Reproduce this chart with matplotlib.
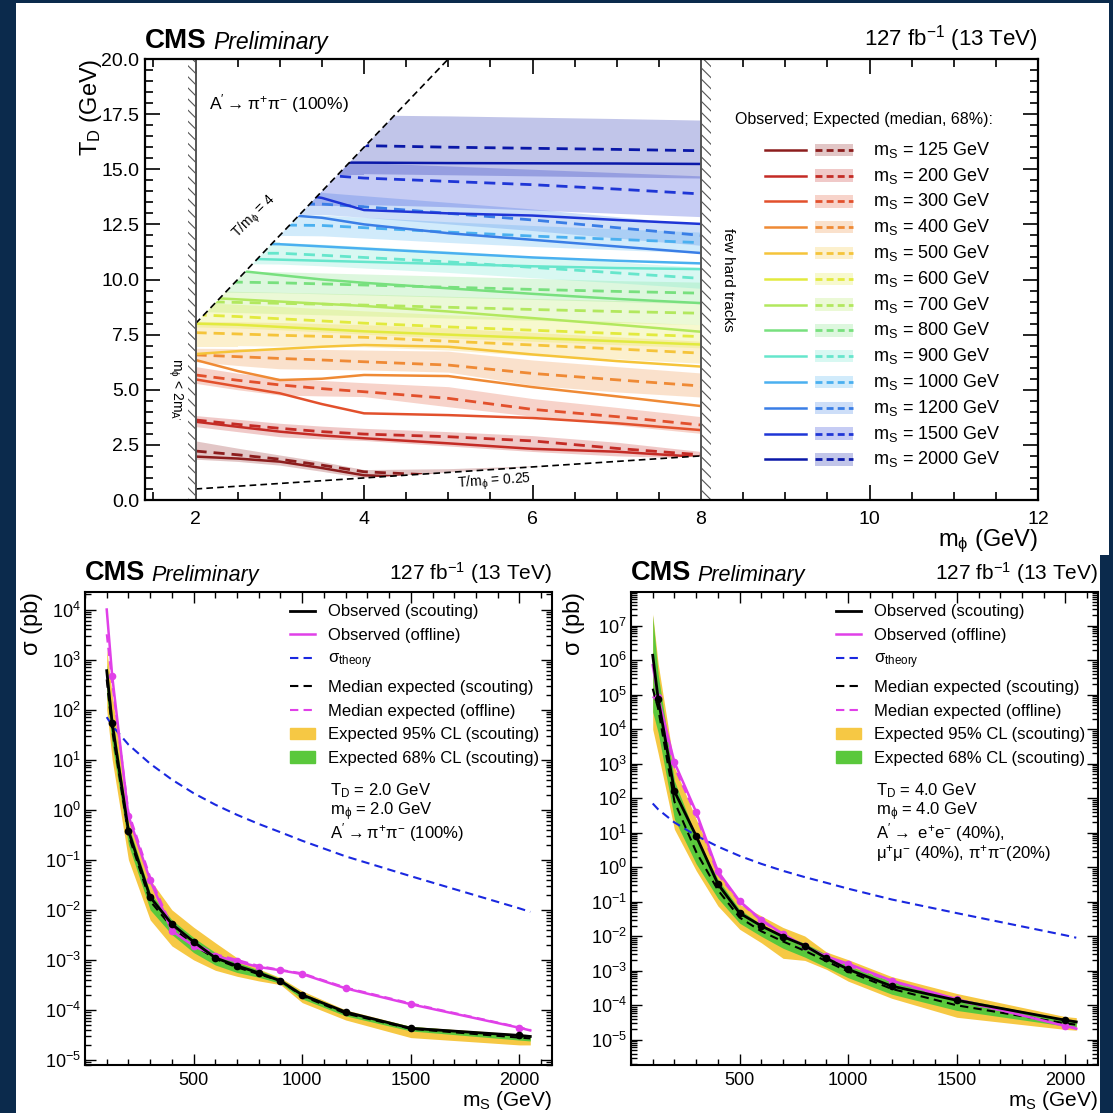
import math
import matplotlib
matplotlib.use('Agg')
import matplotlib.pyplot as plt
from matplotlib.patches import Rectangle, Polygon, Patch
from matplotlib.lines import Line2D
from matplotlib.ticker import MultipleLocator, FixedLocator, NullFormatter, FormatStrFormatter

plt.rcParams['font.family'] = ['Liberation Sans', 'DejaVu Sans']
plt.rcParams['mathtext.default'] = 'regular'
plt.rcParams['hatch.linewidth'] = 0.8

# ---------------- top panel: T_D vs m_phi limits ----------------
mphi = [2, 2.5, 3, 3.5, 4, 5, 6, 7, 8]
ms_vals = [125, 200, 300, 400, 500, 600, 700, 800, 900, 1000, 1200, 1500, 2000]
ms_colors = ['#8c1d1d', '#c42b25', '#e2502c', '#ef8a35', '#f5c43a', '#e2ea3e', '#b2e85e',
             '#78e07e', '#66e6cc', '#4ab0f0', '#3a7ee6', '#1f36d6', '#0a18a8']

# observed / expected / 68% band, one row per m_S
td_obs = [
    [1.97, 1.88, 1.74, 1.45, 1.12, 1.00, 1.00, 1.00, 1.00],
    [3.55, 3.32, 3.10, 2.93, 2.80, 2.57, 2.32, 2.19, 1.95],
    [5.47, 5.15, 4.84, 4.35, 3.93, 3.85, 3.72, 3.48, 3.17],
    [6.35, 5.85, 5.44, 5.50, 5.67, 5.62, 5.12, 4.70, 4.26],
    [6.62, 6.75, 6.85, 6.95, 7.03, 6.95, 6.60, 6.30, 6.05],
    [8.00, 7.95, 7.85, 7.75, 7.65, 7.50, 7.35, 7.20, 7.05],
    [9.20, 9.10, 9.00, 8.90, 8.80, 8.55, 8.25, 7.95, 7.63],
    [10.50, 10.40, 10.20, 10.00, 9.85, 9.60, 9.35, 9.12, 8.93],
    [11.00, 10.95, 10.90, 10.85, 10.80, 10.70, 10.60, 10.52, 10.47],
    [11.65, 11.64, 11.60, 11.50, 11.40, 11.20, 11.00, 10.85, 10.73],
    [13.00, 12.97, 12.95, 12.80, 12.50, 12.10, 11.80, 11.50, 11.20],
    [14.00, 14.00, 14.00, 13.70, 13.15, 13.00, 12.90, 12.70, 12.52],
    [15.30, 15.30, 15.30, 15.30, 15.30, 15.28, 15.27, 15.26, 15.24],
]
td_exp = [
    [2.22, 2.05, 1.85, 1.58, 1.28, 1.10, 1.00, 1.00, 1.00],
    [3.63, 3.43, 3.25, 3.10, 2.99, 2.87, 2.68, 2.34, 2.05],
    [5.67, 5.43, 5.22, 5.05, 4.91, 4.61, 4.11, 3.78, 3.40],
    [6.58, 6.50, 6.42, 6.35, 6.27, 6.12, 5.74, 5.45, 5.17],
    [7.59, 7.53, 7.47, 7.42, 7.38, 7.20, 7.03, 6.85, 6.66],
    [8.40, 8.32, 8.22, 8.12, 8.02, 7.85, 7.70, 7.55, 7.41],
    [9.00, 8.96, 8.92, 8.88, 8.84, 8.74, 8.64, 8.55, 8.47],
    [9.90, 9.88, 9.85, 9.80, 9.75, 9.65, 9.55, 9.46, 9.38],
    [11.20, 11.19, 11.19, 11.10, 11.00, 10.80, 10.55, 10.30, 10.05],
    [12.47, 12.47, 12.47, 12.45, 12.35, 12.15, 11.97, 11.82, 11.67],
    [13.42, 13.42, 13.42, 13.42, 13.30, 13.00, 12.70, 12.35, 12.00],
    [14.74, 14.74, 14.74, 14.74, 14.60, 14.45, 14.30, 14.10, 13.88],
    [16.07, 16.07, 16.07, 16.07, 16.07, 16.00, 15.95, 15.90, 15.84],
]
td_lo = [
    [1.85, 1.75, 1.58, 1.30, 1.00, 1.00, 1.00, 1.00, 1.00],
    [3.33, 3.10, 2.87, 2.77, 2.70, 2.45, 2.20, 2.00, 1.90],
    [5.29, 5.00, 4.76, 4.72, 4.69, 4.23, 3.80, 3.40, 3.02],
    [6.27, 6.10, 5.95, 5.92, 5.90, 5.80, 5.20, 4.90, 4.67],
    [7.00, 7.00, 6.98, 6.97, 6.95, 6.80, 6.55, 6.40, 6.20],
    [7.85, 7.80, 7.72, 7.62, 7.52, 7.35, 7.20, 7.05, 6.90],
    [8.55, 8.50, 8.45, 8.40, 8.35, 8.25, 8.15, 8.05, 7.95],
    [9.45, 9.42, 9.40, 9.35, 9.30, 9.20, 9.10, 9.00, 8.90],
    [10.75, 10.72, 10.70, 10.62, 10.52, 10.32, 10.08, 9.85, 9.60],
    [12.00, 12.00, 12.00, 11.98, 11.88, 11.68, 11.50, 11.35, 11.20],
    [12.95, 12.95, 12.95, 12.95, 12.82, 12.52, 12.22, 11.88, 11.55],
    [13.40, 13.40, 13.40, 13.40, 13.40, 13.30, 13.15, 13.00, 12.85],
    [14.80, 14.80, 14.80, 14.80, 14.80, 14.75, 14.70, 14.65, 14.60],
]
td_hi = [
    [2.68, 2.35, 2.04, 1.74, 1.38, 1.42, 1.55, 1.60, 1.60],
    [3.83, 3.66, 3.48, 3.35, 3.25, 3.10, 2.92, 2.62, 2.20],
    [6.05, 5.75, 5.52, 5.42, 5.32, 5.14, 4.60, 4.20, 3.78],
    [6.88, 6.87, 6.85, 6.83, 6.80, 6.75, 6.35, 6.05, 5.76],
    [8.10, 8.08, 8.05, 8.00, 7.95, 7.80, 7.60, 7.40, 7.20],
    [8.95, 8.88, 8.78, 8.68, 8.58, 8.40, 8.25, 8.10, 7.95],
    [9.50, 9.46, 9.42, 9.38, 9.34, 9.24, 9.14, 9.05, 8.97],
    [10.40, 10.38, 10.35, 10.30, 10.25, 10.15, 10.05, 9.95, 9.88],
    [11.70, 11.68, 11.68, 11.60, 11.50, 11.30, 11.05, 10.80, 10.55],
    [12.95, 12.95, 12.95, 12.92, 12.82, 12.62, 12.45, 12.30, 12.15],
    [13.95, 13.95, 13.95, 13.95, 13.80, 13.50, 13.20, 12.85, 12.50],
    [15.40, 15.40, 15.40, 15.40, 15.30, 15.15, 15.00, 14.85, 14.70],
    [17.46, 17.46, 17.46, 17.46, 17.46, 17.42, 17.36, 17.30, 17.23],
]
# kinematic boundaries T/m_phi = 4 and 0.25
bound_x = [2, 8]
bound_lo = [0.5, 2.0]
bound_hi_x = [2, 5.0]
bound_hi = [8.0, 20.0]

# ---------------- bottom panels: sigma vs m_S ----------------
mass = [100, 125, 200, 300, 400, 500, 600, 700, 800, 900, 1000, 1200, 1500, 2000, 2050]
theory = [70.8, 47.9, 20, 8.3, 4.0, 2.14, 1.26, 0.79, 0.52, 0.355, 0.24, 0.117, 0.047, 0.0107, 0.0091]

# T_D = 2 GeV, m_phi = 2 GeV
l_obs = [600, 54, 0.38, 0.018, 5.2e-3, 2.3e-3, 1.1e-3, 7.6e-4, 5.5e-4, 3.8e-4, 2.0e-4, 9.1e-5, 4.3e-5, 3.1e-5, 2.95e-5]
l_exp = [400, 40, 0.32, 0.015, 4.5e-3, 2.0e-3, 1.05e-3, 7.1e-4, 5.2e-4, 3.8e-4, 1.9e-4, 8.5e-5, 4.2e-5, 2.8e-5, 2.7e-5]
l_g_lo = [200, 20, 0.2, 0.01, 3.2e-3, 1.4e-3, 7.9e-4, 5.6e-4, 4.5e-4, 3.4e-4, 1.66e-4, 7.6e-5, 3.8e-5, 2.5e-5, 2.4e-5]
l_g_hi = [800, 80, 0.5, 0.022, 6.3e-3, 2.8e-3, 1.4e-3, 8.9e-4, 6.3e-4, 4.2e-4, 2.2e-4, 9.5e-5, 4.7e-5, 3.2e-5, 3.0e-5]
l_y_lo = [100, 10, 0.1, 6.3e-3, 1.9e-3, 1.0e-3, 6.2e-4, 4.7e-4, 3.8e-4, 3.2e-4, 1.4e-4, 6.3e-5, 2.8e-5, 2.0e-5, 2.0e-5]
l_y_hi = [1600, 200, 0.8, 0.04, 0.01, 4.5e-3, 2.2e-3, 1.1e-3, 6.6e-4, 4.4e-4, 2.4e-4, 1.0e-4, 4.7e-5, 3.3e-5, 3.2e-5]
l_off_obs = [1.0e4, 480, 0.76, 0.039, 3.8e-3, 1.9e-3, 1.2e-3, 9.3e-4, 7.2e-4, 6.2e-4, 5.2e-4, 2.7e-4, 1.3e-4, 4.4e-5, 3.9e-5]
l_off_exp = [3.2e3, 350, 0.9, 0.045, 4.5e-3, 2.2e-3, 1.3e-3, 1.0e-3, 7.6e-4, 6.3e-4, 5.4e-4, 2.8e-4, 1.35e-4, 4.5e-5, 4.0e-5]

# T_D = 4 GeV, m_phi = 4 GeV
r_obs = [1.4e6, 7.6e4, 160, 8.1, 0.33, 0.047, 0.02, 9.8e-3, 5.4e-3, 2.3e-3, 1.1e-3, 3.6e-4, 1.4e-4, 3.7e-5, 3.3e-5]
r_exp = [1.5e5, 4.0e4, 80, 2.8, 0.22, 0.035, 0.014, 7.1e-3, 3.8e-3, 1.9e-3, 9.5e-4, 3.0e-4, 1.0e-4, 3.0e-5, 2.75e-5]
r_g_lo = [3.2e4, 8e3, 25, 1.26, 0.126, 0.024, 0.01, 4.5e-3, 2.5e-3, 1.26e-3, 6.3e-4, 2.1e-4, 7.1e-5, 2.5e-5, 2.4e-5]
r_g_hi = [2.0e7, 4.0e5, 320, 7.9, 0.45, 0.06, 0.022, 0.011, 6.3e-3, 3.0e-3, 1.4e-3, 5.0e-4, 1.6e-4, 4.0e-5, 3.7e-5]
r_y_lo = [1e4, 2e3, 12.6, 0.8, 0.076, 0.016, 6.5e-3, 2.3e-3, 2.0e-3, 1.1e-3, 5.0e-4, 1.6e-4, 4.5e-5, 2.0e-5, 1.9e-5]
r_y_hi = [2.2e7, 8e5, 800, 25, 0.9, 0.085, 0.039, 0.018, 0.0102, 3.5e-3, 2.1e-3, 6.8e-4, 2.2e-4, 4.7e-5, 4.4e-5]
r_off_obs = [7.2e5, 8.5e4, 1.1e3, 40, 0.76, 0.105, 0.03, 0.0117, 5.1e-3, 2.6e-3, 1.6e-3, 5.2e-4, 1.5e-4, 2.5e-5, 2.1e-5]
r_off_exp = [8.9e4, 6.3e4, 800, 32, 0.63, 0.1, 0.028, 0.0112, 5.0e-3, 2.5e-3, 1.4e-3, 5.0e-4, 1.4e-4, 2.6e-5, 2.2e-5]

NAVY = '#0b2a4c'
W = 1113.0


def box(l, t, r, b):
    # pixel box (left, top, right, bottom) -> figure fraction rect
    return [l / W, 1 - b / W, (r - l) / W, (b - t) / W]


def cms_header(ax, size, psize, lsize, dx):
    ax.text(0, 1.012, 'CMS', fontsize=size, fontweight='bold', transform=ax.transAxes, va='bottom')
    ax.text(dx, 1.012, 'Preliminary', fontsize=psize, style='italic', transform=ax.transAxes, va='bottom')
    ax.text(1.0, 1.012, r'127 fb$^{-1}$ (13 TeV)', fontsize=lsize, transform=ax.transAxes,
            va='bottom', ha='right')


fig = plt.figure(figsize=(11.13, 11.13), dpi=100, facecolor=NAVY)
fig.add_artist(Rectangle((16 / W, 1 - 555 / W), 1093 / W, 552 / W, transform=fig.transFigure,
                         facecolor='white', edgecolor='none', zorder=-5))
fig.add_artist(Rectangle((16 / W, 0), 1084 / W, 558 / W, transform=fig.transFigure,
                         facecolor='white', edgecolor='none', zorder=-5))

# ===== top =====
ax = fig.add_axes(box(145, 59, 1038, 500))
ax.set_xlim(1.4, 12)
ax.set_ylim(0, 20)

clip = Polygon([(2, 0.5), (8, 2), (8, 25), (6.25, 25), (2, 8)], closed=True,
               transform=ax.transData, facecolor='none', edgecolor='none')

for i, c in enumerate(ms_colors):
    b = ax.fill_between(mphi, td_lo[i], td_hi[i], color=c, alpha=0.25, lw=0)
    b.set_clip_path(clip)
for i, c in enumerate(ms_colors):
    l1, = ax.plot(mphi, td_exp[i], color=c, lw=2, ls=(0, (4, 2.5)))
    l2, = ax.plot(mphi, td_obs[i], color=c, lw=1.8)
    l1.set_clip_path(clip)
    l2.set_clip_path(clip)

ax.plot(bound_x, bound_lo, color='k', lw=1.2, ls=(0, (4, 2.5)))
ax.plot(bound_hi_x, bound_hi, color='k', lw=1.2, ls=(0, (4, 2.5)))

for x0, w in [(1.915, 0.085), (8.0, 0.12)]:
    ax.add_patch(Rectangle((x0, 0), w, 20, facecolor='none', edgecolor='#555555',
                           hatch='\\\\\\', lw=0))
ax.axvline(2, color='#555555', lw=1.4)
ax.axvline(8, color='#555555', lw=1.4)

ax.text(0.072, 0.900, r'A$^{\prime}\rightarrow\pi^{+}\pi^{-}$ (100%)', fontsize=12.5,
        transform=ax.transAxes, va='center')
ax.text(0.123, 0.642, r'T/m$_{\phi}$ = 4', fontsize=10, rotation=45, transform=ax.transAxes,
        ha='center', va='center')
ax.text(0.3915, 0.042, r'T/m$_{\phi}$ = 0.25', fontsize=10, rotation=4, transform=ax.transAxes,
        ha='center', va='center')
ax.text(0.034, 0.252, r'm$_{\phi}$ < 2m$_{A^{\prime}}$', fontsize=10, rotation=270,
        transform=ax.transAxes, ha='center', va='center')
ax.text(0.653, 0.50, 'few hard tracks', fontsize=11, rotation=270, transform=ax.transAxes,
        ha='center', va='center')

# legend built by hand (solid observed + dashed expected with band)
ax.text(0.661, 0.862, 'Observed; Expected (median, 68%):', fontsize=11.5,
        transform=ax.transAxes, va='center')
for i, (m, c) in enumerate(zip(ms_vals, ms_colors)):
    y = 0.794 - i * 0.0585
    ax.plot([0.694, 0.740], [y, y], color=c, lw=1.8, transform=ax.transAxes)
    ax.add_patch(Rectangle((0.750, y - 0.014), 0.043, 0.028, transform=ax.transAxes,
                           facecolor=c, alpha=0.25, lw=0))
    ax.plot([0.750, 0.793], [y, y], color=c, lw=2, ls=(0, (2.5, 1.5)), transform=ax.transAxes)
    ax.text(0.815, y, r'm$_{S}$ = %d GeV' % m, fontsize=13, transform=ax.transAxes, va='center')

ax.xaxis.set_major_locator(MultipleLocator(2))
ax.xaxis.set_minor_locator(MultipleLocator(0.5))
ax.yaxis.set_major_locator(MultipleLocator(2.5))
ax.yaxis.set_minor_locator(MultipleLocator(0.5))
ax.yaxis.set_major_formatter(FormatStrFormatter('%.1f'))
ax.tick_params(which='both', direction='in', top=True, right=True, labelsize=14, width=1.2)
ax.tick_params(which='major', length=11, pad=4)
ax.tick_params(which='minor', length=5.5)
ax.tick_params(axis='x', which='major', pad=8)
for s in ax.spines.values():
    s.set_linewidth(1.6)
ax.set_ylabel(r'T$_{D}$ (GeV)', fontsize=17, loc='top')
ax.yaxis.set_label_coords(-0.046, 1.0)
ax.set_xlabel(r'm$_{\phi}$ (GeV)', fontsize=17, loc='right')
ax.xaxis.set_label_coords(1.0, -0.063)
cms_header(ax, 20, 16.5, 16, 0.076)


# ===== bottom panels =====
def limit_panel(rect, obs, exp, g_lo, g_hi, y_lo, y_hi, off_obs, off_exp, ylim, info, info_y,
                ylab_x):
    ax = fig.add_axes(rect)
    ax.set_yscale('log')
    ax.set_xlim(0, 2150)
    ax.set_ylim(*ylim)
    ax.fill_between(mass, y_lo, y_hi, color='#f6c844', lw=0)
    ax.fill_between(mass, g_lo, g_hi, color='#5ac83c', lw=0)
    ax.plot(mass, theory, color='#1a28e0', lw=1.5, ls=(0, (4, 2.5)))
    ax.plot(mass, off_exp, color='#e040e8', lw=1.5, ls=(0, (4, 2.5)))
    ax.plot(mass, exp, color='k', lw=1.5, ls=(0, (4, 2.5)))
    ax.plot(mass, off_obs, color='#e040e8', lw=1.8)
    ax.plot(mass[1:-1], off_obs[1:-1], 'o', color='#e040e8', ms=4.5)
    ax.plot(mass, obs, color='k', lw=2)
    ax.plot(mass[1:-1], obs[1:-1], 'o', color='k', ms=4.5)

    handles = [Line2D([], [], color='k', lw=2),
               Line2D([], [], color='#e040e8', lw=1.8),
               Line2D([], [], color='#1a28e0', lw=1.5, ls=(0, (4, 2.5))),
               Line2D([], [], color='k', lw=1.5, ls=(0, (4, 2.5))),
               Line2D([], [], color='#e040e8', lw=1.5, ls=(0, (4, 2.5))),
               Patch(color='#f6c844'), Patch(color='#5ac83c')]
    labels = ['Observed (scouting)', 'Observed (offline)', r'$\sigma_{theory}$',
              'Median expected (scouting)', 'Median expected (offline)',
              'Expected 95% CL (scouting)', 'Expected 68% CL (scouting)']
    ax.legend(handles, labels, loc='upper left', bbox_to_anchor=(0.425, 0.988), frameon=False,
              fontsize=12, handlelength=1.5, handletextpad=0.8, labelspacing=0.52,
              borderaxespad=0)
    for k, t in enumerate(info):
        ax.text(0.525, info_y - k * 0.0445, t, fontsize=12, transform=ax.transAxes, va='center')

    # decade ticks only inside the visible range
    k0, k1 = math.ceil(math.log10(ylim[0])), math.floor(math.log10(ylim[1]))
    ax.yaxis.set_major_locator(FixedLocator([10.0 ** k for k in range(k0, k1 + 1)]))
    ax.yaxis.set_minor_locator(FixedLocator(
        [m * 10.0 ** k for k in range(k0 - 1, k1 + 1) for m in range(2, 10)
         if ylim[0] < m * 10.0 ** k < ylim[1]]))
    ax.yaxis.set_minor_formatter(NullFormatter())
    ax.xaxis.set_major_locator(FixedLocator([500, 1000, 1500, 2000]))
    ax.xaxis.set_minor_locator(MultipleLocator(100))
    ax.tick_params(which='both', direction='in', top=True, right=True, labelsize=13, width=1.0)
    ax.tick_params(which='major', length=8, pad=3)
    ax.tick_params(which='minor', length=4)
    ax.tick_params(axis='x', which='major', pad=5)
    for s in ax.spines.values():
        s.set_linewidth(1.5)
    ax.set_ylabel(r'$\sigma$ (pb)', fontsize=17, loc='top')
    ax.yaxis.set_label_coords(ylab_x, 1.0)
    ax.set_xlabel(r'm$_{S}$ (GeV)', fontsize=15, loc='right')
    ax.xaxis.set_label_coords(1.0, -0.051)
    cms_header(ax, 19.5, 15.5, 15, 0.143)
    return ax


limit_panel(box(85, 592, 552, 1065), l_obs, l_exp, l_g_lo, l_g_hi, l_y_lo, l_y_hi,
            l_off_obs, l_off_exp, (10 ** -5.1, 10 ** 4.35),
            [r'T$_{D}$ = 2.0 GeV', r'm$_{\phi}$ = 2.0 GeV',
             r'A$^{\prime}\rightarrow\pi^{+}\pi^{-}$ (100%)'], 0.581, -0.086)
limit_panel(box(631, 592, 1098, 1065), r_obs, r_exp, r_g_lo, r_g_hi, r_y_lo, r_y_hi,
            r_off_obs, r_off_exp, (10 ** -5.73, 10 ** 7.98),
            [r'T$_{D}$ = 4.0 GeV', r'm$_{\phi}$ = 4.0 GeV',
             r'A$^{\prime}\rightarrow$ e$^{+}$e$^{-}$ (40%),',
             r'$\mu^{+}\mu^{-}$ (40%), $\pi^{+}\pi^{-}$(20%)'], 0.581, -0.094)

fig.savefig('out.png', dpi=100, facecolor=NAVY)
